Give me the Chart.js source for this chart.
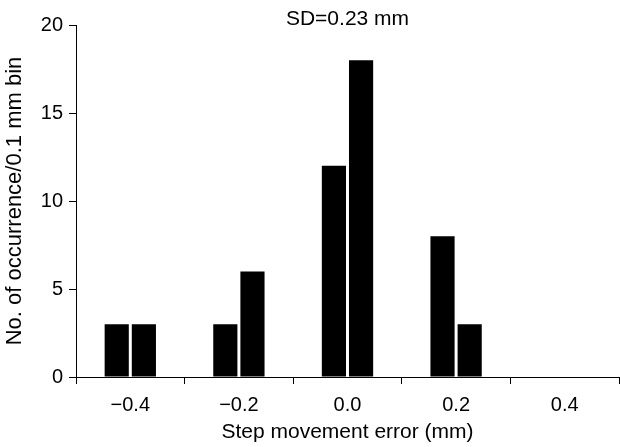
<!DOCTYPE html>
<html>
<head>
<meta charset="utf-8">
<script src="https://cdn.jsdelivr.net/npm/chart.js@4.4.1/dist/chart.umd.min.js"></script>
<style>
  html, body { margin: 0; padding: 0; background: #fff; }
  #wrap { width: 620px; height: 447px; }
</style>
</head>
<body>
<div id="wrap"><canvas id="histChart"></canvas></div>
<script>
// bin centres (mm) and counts
const binCenters = [-0.425, -0.375, -0.225, -0.175, -0.025, 0.025, 0.175, 0.225];
const counts = [3, 3, 3, 6, 12, 18, 8, 3];

// x labels sit between the tick marks
const xLabelValues = [-0.4, -0.2, 0.0, 0.2, 0.4];
const xLabels = ["\u22120.4", "\u22120.2", "0.0", "0.2", "0.4"];
const xTickMarks = [-0.5, -0.3, -0.1, 0.1, 0.3, 0.5];
const yTicks = [0, 5, 10, 15, 20];

const sdText = "SD=0.23 mm";

Chart.defaults.font.family = "'Liberation Sans', Arial, sans-serif";
Chart.defaults.font.size = 20;
Chart.defaults.color = "#000";

function near(a, b) { return Math.abs(a - b) < 1e-6; }

// SD note above the plot
const sdLabel = {
    id: "sdLabel",
    afterDraw(chart) {
        const ctx = chart.ctx;
        const area = chart.chartArea;
        ctx.save();
        ctx.font = "21px 'Liberation Sans', Arial, sans-serif";
        ctx.fillStyle = "#000";
        ctx.textAlign = "center";
        ctx.textBaseline = "middle";
        ctx.fillText(sdText, (area.left + area.right) / 2, 19);
        ctx.restore();
    }
};

new Chart(document.getElementById("histChart"), {
    type: "bar",
    data: {
        datasets: [{
            data: binCenters.map((x, i) => ({ x: x, y: counts[i] })),
            backgroundColor: "#000",
            borderWidth: 0,
            barPercentage: 0.89,
            categoryPercentage: 1.0
        }]
    },
    options: {
        responsive: true,
        maintainAspectRatio: false,
        animation: false,
        layout: { padding: { top: 25, right: 1, left: 0, bottom: 0 } },
        plugins: {
            legend: { display: false },
            tooltip: { enabled: false }
        },
        scales: {
            x: {
                type: "linear",
                offset: false,
                min: -0.5,
                max: 0.5,
                afterBuildTicks: scale => {
                    const vals = xTickMarks.concat(xLabelValues).sort((a, b) => a - b);
                    scale.ticks = vals.map(v => ({ value: v }));
                },
                afterFit: scale => {
                    scale.height = 70;
                    scale.paddingLeft = 0;
                    scale.paddingRight = 0;
                },
                ticks: {
                    autoSkip: false,
                    maxRotation: 0,
                    padding: 9,
                    callback: value => {
                        const i = xLabelValues.findIndex(v => near(v, value));
                        return i >= 0 ? xLabels[i] : "";
                    }
                },
                grid: {
                    offset: false,
                    drawOnChartArea: false,
                    tickLength: 7,
                    tickColor: ctx => (ctx.tick && xTickMarks.some(v => near(v, ctx.tick.value))) ? "#000" : "rgba(0,0,0,0)"
                },
                border: { color: "#000", width: 1 },
                title: {
                    display: true,
                    text: "Step movement error (mm)",
                    font: { size: 21 },
                    padding: { top: 0, bottom: 2 }
                }
            },
            y: {
                min: 0,
                max: 20,
                afterBuildTicks: scale => {
                    scale.ticks = yTicks.map(v => ({ value: v }));
                },
                afterFit: scale => { scale.width = 76; },
                ticks: { padding: 6 },
                grid: {
                    drawOnChartArea: false,
                    tickLength: 7,
                    tickColor: "#000"
                },
                border: { color: "#000", width: 1 },
                title: {
                    display: true,
                    text: "No. of occurrence/0.1 mm bin",
                    font: { size: 22 },
                    padding: { top: 2, bottom: 0 }
                }
            }
        }
    },
    plugins: [sdLabel]
});
</script>
</body>
</html>
